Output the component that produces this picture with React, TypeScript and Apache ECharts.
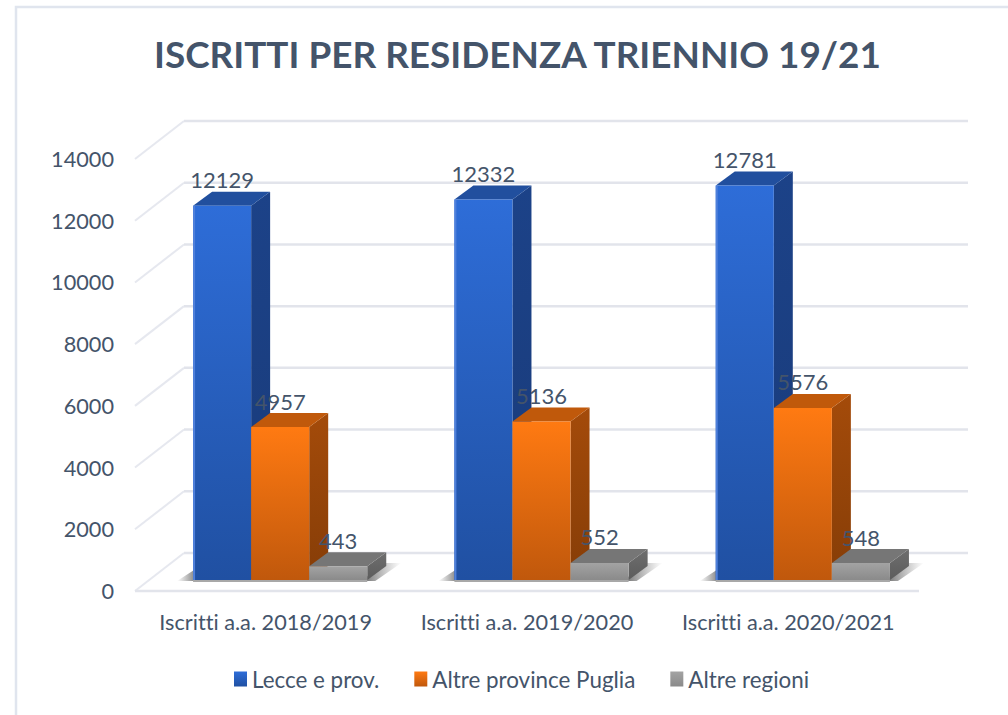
import React, { useEffect, useRef } from "react";
import * as echarts from "echarts";

const categories = ["Iscritti a.a. 2018/2019", "Iscritti a.a. 2019/2020", "Iscritti a.a. 2020/2021"];
const lecce = [12129, 12332, 12781];
const altreProvince = [4957, 5136, 5576];
const altreRegioni = [443, 552, 548];
const gridTicks = [0, 2000, 4000, 6000, 8000, 10000, 12000, 14000];
const titleText = "ISCRITTI PER RESIDENZA TRIENNIO 19/21";
const seriesNames = ["Lecce e prov.", "Altre province Puglia", "Altre regioni"];

const INK = "#44546A";
const FONT = "Lato, 'Noto Sans', sans-serif";
const DX = 19, DY = -14; // bar depth
const WX = 49, WY = -38; // wall depth
const FLOOR_X = 14.5, FLOOR_Y = -11; // bars stand in the middle of the floor

const grad = (a: string, b: string) =>
  new echarts.graphic.LinearGradient(0, 0, 0, 1, [
    { offset: 0, color: a },
    { offset: 1, color: b },
  ]);
const hgrad = (a: string, b: string) =>
  new echarts.graphic.LinearGradient(0, 0, 1, 0, [
    { offset: 0, color: a },
    { offset: 1, color: b },
  ]);

const palettes = [
  { front: ["#2E6DD8", "#2050A2"], top: "#214F9E", side: ["#1C4288", "#193B7A"], edge: "#4F80DB" },
  { front: ["#FF7A12", "#C0580C"], top: "#C0590B", side: ["#A44B0A", "#863D07"], edge: "" },
  { front: ["#A3A3A3", "#8A8A8A"], top: "#767676", side: ["#6E6E6E", "#5C5C5C"], edge: "" },
];

const barRender = (si: number) => (_p: any, api: any) => {
  const idx = api.value(0);
  const val = api.value(1);
  const [cx, yv] = api.coord([idx, val]);
  const [, y0] = api.coord([idx, 0]);
  const bw = api.size([1, 0])[0] * 0.2222;
  const x = cx + FLOOR_X + (si - 1.5) * bw;
  const top = yv + FLOOR_Y;
  const base = y0 + FLOOR_Y;
  const c = palettes[si];
  const children: any[] = [
    {
      type: "polygon",
      shape: { points: [[x + bw, top], [x + bw + DX, top + DY], [x + bw + DX, base + DY], [x + bw, base]] },
      style: { fill: grad(c.side[0], c.side[1]) },
    },
    {
      type: "polygon",
      shape: { points: [[x, top], [x + DX, top + DY], [x + bw + DX, top + DY], [x + bw, top]] },
      style: { fill: c.top },
    },
    { type: "rect", shape: { x, y: top, width: bw, height: base - top }, style: { fill: grad(c.front[0], c.front[1]) } },
  ];
  if (c.edge) {
    children.push({ type: "rect", shape: { x, y: top, width: 2, height: base - top }, style: { fill: c.edge } });
  }
  children.push({
    type: "text",
    x: x + bw / 2,
    y: top + DY - 1,
    style: { text: String(val), fill: INK, font: `400 22px ${FONT}`, align: "center", verticalAlign: "bottom" },
  });
  return { type: "group", children };
};

const shadowRender = (_p: any, api: any) => {
  const idx = api.value(0);
  const [cx, y0raw] = api.coord([idx, 0]);
  const bw = api.size([1, 0])[0] * 0.2222;
  const left = cx + FLOOR_X - 1.5 * bw;
  const right = cx + FLOOR_X + 1.5 * bw;
  const y0 = y0raw + FLOOR_Y + 1;
  return {
    type: "group",
    children: [
      {
        type: "polygon",
        shape: { points: [[left + 1, y0], [left - 16, y0], [left + 1, y0 - 11]] },
        style: { fill: hgrad("rgba(120,120,120,0)", "rgba(110,110,110,0.8)") },
      },
      {
        type: "polygon",
        shape: { points: [[right - 4, y0], [right + 8, y0], [right + 34, y0 - 18], [right + 12, y0 - 18]] },
        style: { fill: hgrad("rgba(100,100,100,0.95)", "rgba(140,140,140,0)") },
      },
      { type: "rect", shape: { x: left, y: y0 - 1, width: 3 * bw, height: 2 }, style: { fill: "#A8A8A8" } },
    ],
  };
};

const wallRender = (p: any, api: any) => {
  const y = api.coord([0, api.value(1)])[1];
  const cs = p.coordSys;
  const isBase = api.value(1) === 0;
  const children: any[] = [
    {
      type: "line",
      shape: { x1: cs.x, y1: y, x2: cs.x + WX, y2: y + WY },
      style: { stroke: "#E6E8EF", lineWidth: 2 },
    },
    {
      type: "line",
      shape: { x1: cs.x + WX, y1: y + WY, x2: cs.x + cs.width + WX, y2: y + WY },
      style: { stroke: "#E2E4EB", lineWidth: 2.5 },
    },
  ];
  if (isBase) {
    children.push({
      type: "line",
      shape: { x1: cs.x, y1: y, x2: cs.x + cs.width, y2: y },
      style: { stroke: "#E2E4EB", lineWidth: 2.5 },
    });
  }
  return { type: "group", children };
};

const asRows = (values: number[]) => values.map((v, i) => [i, v]);

export default function App() {
  const ref = useRef<HTMLDivElement>(null);
  useEffect(() => {
    const chart = echarts.init(ref.current!, null, { renderer: "svg" });
    chart.setOption({
      animation: false,
      backgroundColor: "#FFFFFF",
      title: {
        text: titleText,
        left: 149,
        top: 30,
        textStyle: { color: INK, fontFamily: FONT, fontWeight: 700, fontSize: 36.9 },
      },
      graphic: [
        {
          type: "rect",
          silent: true,
          z: -1,
          shape: { x: 16, y: 7, width: 1020, height: 740 },
          style: { fill: "none", stroke: "#E0E5EE", lineWidth: 2.5 },
        },
      ],
      legend: {
        left: 229,
        top: 663,
        icon: "rect",
        itemWidth: 13,
        itemHeight: 15,
        itemGap: 35,
        data: seriesNames,
        textStyle: { color: INK, fontFamily: FONT, fontSize: 22.4 },
      },
      grid: { left: 135, right: 89, top: 159, bottom: 124 },
      xAxis: {
        type: "category",
        data: categories,
        axisLine: { show: false },
        axisTick: { show: false },
        axisLabel: { color: INK, fontFamily: FONT, fontSize: 21.7, margin: 20, interval: 0 },
      },
      yAxis: {
        type: "value",
        min: 0,
        max: 14000,
        interval: 2000,
        axisLine: { show: false },
        axisTick: { show: false },
        splitLine: { show: false },
        axisLabel: {
          color: INK,
          fontFamily: FONT,
          fontSize: 21.7,
          margin: 21,
          formatter: (v: number) => String(v),
        },
      },
      series: [
        {
          type: "custom",
          name: "wall",
          renderItem: wallRender,
          data: gridTicks.map((t) => [0, t]),
          encode: { x: 0, y: 1 },
          silent: true,
        },
        {
          type: "custom",
          name: "shadow",
          renderItem: shadowRender,
          data: asRows(altreRegioni),
          encode: { x: 0, y: 1 },
          silent: true,
        },
        ...[lecce, altreProvince, altreRegioni].map((vals, si) => ({
          type: "custom",
          name: seriesNames[si],
          renderItem: barRender(si),
          data: asRows(vals),
          encode: { x: 0, y: 1 },
          itemStyle: { color: grad(palettes[si].front[0], palettes[si].front[1]) },
        })),
      ],
    });
    return () => chart.dispose();
  }, []);
  return (
    <div
      ref={ref}
      style={{ position: "fixed", left: 0, top: 0, width: 1008, height: 715, fontVariantLigatures: "none" }}
    />
  );
}
